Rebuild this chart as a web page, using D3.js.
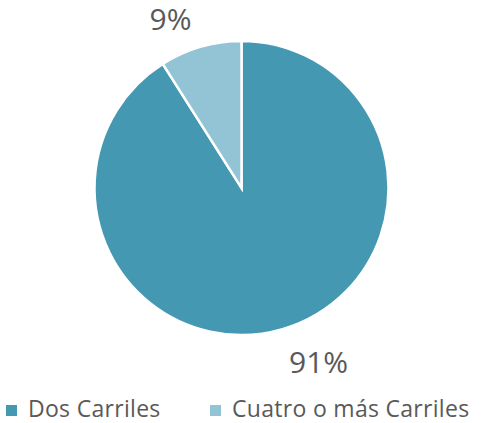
<!DOCTYPE html>
<html>
<head>
<meta charset="utf-8">
<script src="https://cdn.jsdelivr.net/npm/d3@7"></script>
<style>
  body { margin: 0; background: #fff; }
  text { font-family: "Open Sans", sans-serif; fill: #595959; }
</style>
</head>
<body>
<div id="chart"></div>
<script>
// Datos
var categories = ["Dos Carriles", "Cuatro o más Carriles"];
var values = [91, 9];
var labels = ["91%", "9%"];
var colors = ["#4598b2", "#93c4d5"];

var width = 488, height = 423;
var cx = 241.5, cy = 188, radius = 147;

var svg = d3.select("#chart")
    .append("svg")
    .attr("width", width)
    .attr("height", height);

var data = categories.map(function (c, i) {
    return { name: c, value: values[i], label: labels[i], color: colors[i] };
});

var pie = d3.pie()
    .sort(null)
    .value(function (d) { return d.value; });

var arc = d3.arc()
    .innerRadius(0)
    .outerRadius(radius);

var arcs = pie(data);

var g = svg.append("g")
    .attr("transform", "translate(" + cx + "," + cy + ")");

g.selectAll("path")
    .data(arcs)
    .enter()
    .append("path")
    .attr("d", arc)
    .attr("fill", function (d) { return d.data.color; })
    .attr("stroke", "#fff")
    .attr("stroke-width", 2.5);

// Etiquetas fuera del círculo (desplazadas como en Excel)
var labelArc = d3.arc()
    .innerRadius(radius + 36)
    .outerRadius(radius + 36);
var labelShift = [[26, -1], [-20, 7]];

g.selectAll(".pct")
    .data(arcs)
    .enter()
    .append("text")
    .attr("class", "pct")
    .attr("transform", function (d, i) {
        var c = labelArc.centroid(d);
        return "translate(" + (c[0] + labelShift[i][0]) + "," + (c[1] + labelShift[i][1]) + ")";
    })
    .attr("text-anchor", "middle")
    .attr("dy", "0.35em")
    .style("font-size", "30px")
    .text(function (d) { return d.data.label; });

// Leyenda
var legendX = [6, 210];
var legend = svg.selectAll(".legend")
    .data(data)
    .enter()
    .append("g")
    .attr("class", "legend")
    .attr("transform", function (d, i) { return "translate(" + legendX[i] + ",409)"; });

legend.append("rect")
    .attr("x", 0)
    .attr("y", -4)
    .attr("width", 11)
    .attr("height", 11)
    .attr("fill", function (d) { return d.color; });

legend.append("text")
    .attr("x", 22)
    .attr("y", 0)
    .attr("dy", "0.35em")
    .style("font-size", "23px")
    .style("letter-spacing", "0.3px")
    .text(function (d) { return d.name; });
</script>
</body>
</html>
